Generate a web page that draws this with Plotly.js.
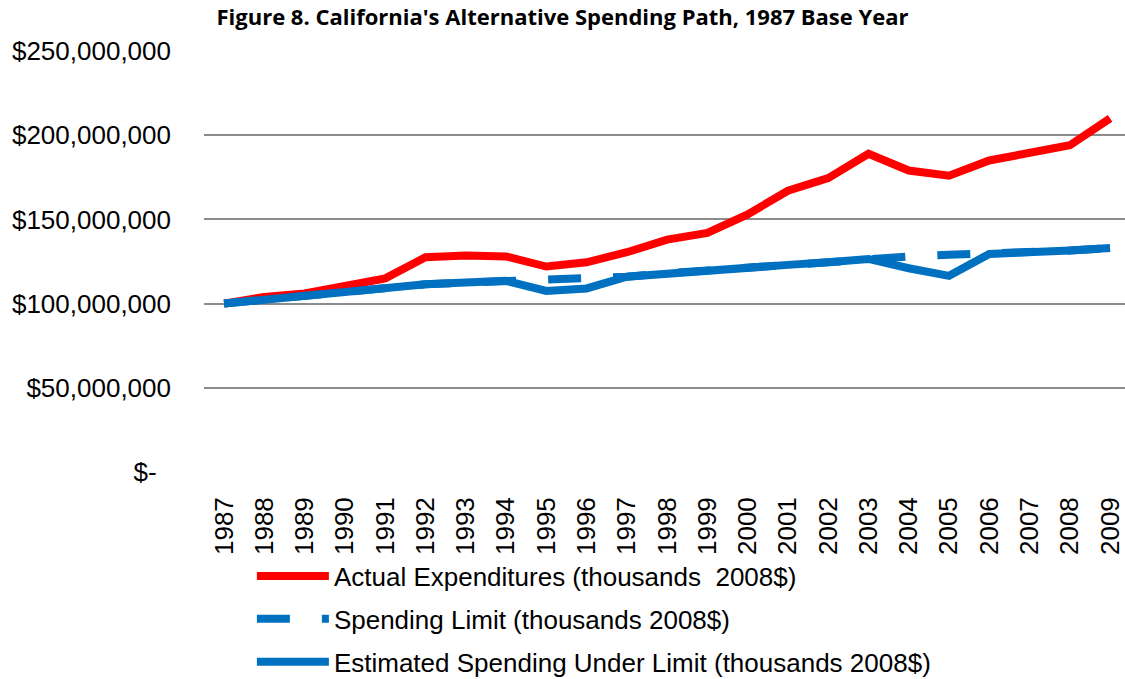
<!DOCTYPE html>
<html>
<head>
<meta charset="utf-8">
<script src="https://cdn.plot.ly/plotly-3.0.1.min.js"></script>
<style>
  html, body {margin: 0; padding: 0; background: white;}
  #chart {width: 1125px; height: 679px;}
</style>
</head>
<body>
<div id="chart"></div>
<script>
(function(){
    // values in millions of dollars (shown on the axis as full dollars)
    const years = ['1987','1988','1989','1990','1991','1992','1993','1994','1995','1996','1997','1998',
                   '1999','2000','2001','2002','2003','2004','2005','2006','2007','2008','2009'];
    const actual = [100,104,106,111,115,127.5,128.5,128,122,124.5,130.5,138,142,153,167,174.5,189,179,176,185,190,194,210];
    const limit = [100,102.5,105,107.5,109.5,111.5,112.5,113.5,113.5,114.5,116,118,120,121.5,123,124.5,126.5,128,129,129.5,130,131.5,133];
    const estimated = [100,102.5,105,107.5,109.5,111.5,112.5,113.5,107.5,109,116,118,120,121.5,123,124.5,126.5,121,116.5,129.5,130,131.5,133];
    const yTicks = [0,50,100,150,200,250];

    const toDollars = arr => arr.map(v => v * 1e6);
    const tickText = yTicks.map(v => v === 0 ? '$-\u00a0\u00a0' : '$' + (v * 1e6).toLocaleString('en-US'));

    const data = [
        {
            x: years, y: toDollars(actual),
            type: 'scatter', mode: 'lines',
            name: 'Actual Expenditures (thousands  2008$)',
            line: {color: '#FF0000', width: 8},
            legend: 'legend'
        },
        {
            x: years, y: toDollars(limit),
            type: 'scatter', mode: 'lines',
            name: 'Spending Limit (thousands 2008$)',
            line: {color: '#0070C0', width: 8, dash: '33px,32px'},
            legend: 'legend2'
        },
        {
            x: years, y: toDollars(estimated),
            type: 'scatter', mode: 'lines',
            name: 'Estimated Spending Under Limit (thousands 2008$)',
            line: {color: '#0070C0', width: 8},
            legend: 'legend3'
        }
    ];

    const legendBase = {
        x: 0.052, xanchor: 'left', yanchor: 'middle',
        font: {size: 26},
        itemwidth: 72,
        bgcolor: 'rgba(0,0,0,0)'
    };

    const layout = {
        width: 1125, height: 679,
        title: {
            text: "<b>Figure 8. California's Alternative Spending Path, 1987 Base Year</b>",
            font: {family: 'Open Sans, sans-serif', size: 22, color: '#000'},
            xref: 'container', x: 0.5, xanchor: 'center',
            yref: 'container', y: 0.975, yanchor: 'middle'
        },
        margin: {l: 204, r: 0, t: 51, b: 207, autoexpand: false},
        paper_bgcolor: 'white',
        plot_bgcolor: 'white',
        font: {family: 'Liberation Sans, Arial, sans-serif', size: 26, color: '#000'},
        xaxis: {
            type: 'category',
            range: [-0.5, 22.37],
            tickangle: -90,
            showgrid: false,
            showline: false,
            zeroline: false,
            ticks: '',
            tickfont: {size: 26},
            ticklabelstandoff: 19
        },
        yaxis: {
            range: [0, 250e6],
            tickvals: toDollars(yTicks),
            ticktext: tickText,
            showgrid: true,
            gridcolor: '#8c8c8c',
            gridwidth: 2,
            zeroline: false,
            showline: false,
            ticks: '',
            tickfont: {size: 26},
            ticklabelstandoff: 32
        },
        showlegend: true,
        legend: Object.assign({}, legendBase, {y: -0.247}),
        legend2: Object.assign({}, legendBase, {y: -0.349}),
        legend3: Object.assign({}, legendBase, {y: -0.451})
    };

    Plotly.newPlot('chart', data, layout, {staticPlot: true});
})();
</script>
</body>
</html>
